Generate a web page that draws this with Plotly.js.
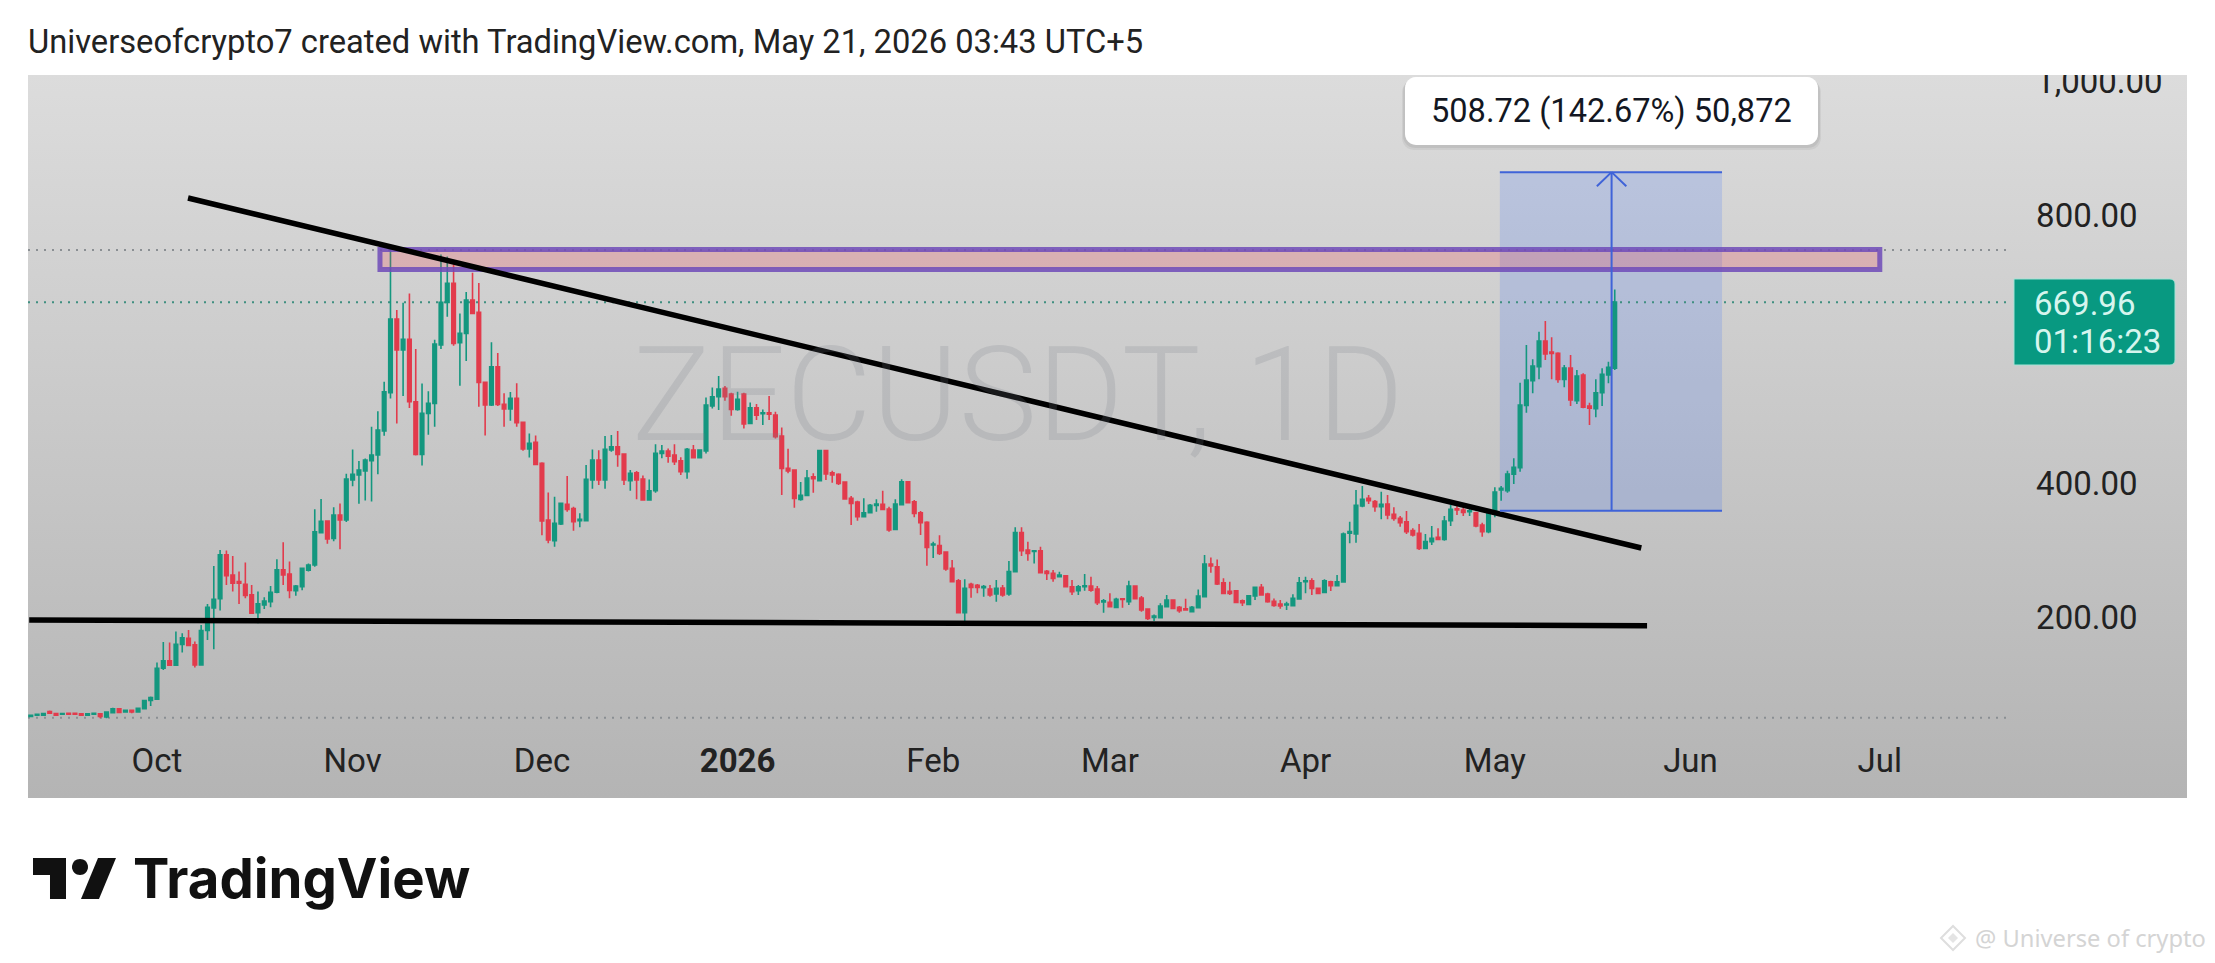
<!DOCTYPE html>
<html>
<head>
<meta charset="utf-8">
<script src="https://cdn.plot.ly/plotly-3.0.1.min.js"></script>
<style>
html,body{margin:0;padding:0;background:#fff;width:2215px;height:963px;overflow:hidden}
#bg{position:absolute;left:28px;top:75px;width:2159px;height:723px;background:linear-gradient(#dcdcdc,#b4b4b4)}
#chart{position:absolute;left:0;top:0;width:2215px;height:963px}
#cover{position:absolute;left:2010px;top:50px;width:177px;height:25px;background:#fff;z-index:5}
</style>
</head>
<body>
<div id="bg"></div>
<div id="chart"></div>
<div id="cover"></div>
<script>
const firstCandle = '2025-09-11';
const opens = [
51.4,53.4,53.4,58.9,55.9,54.9,56.4,56.4,55.4,53.4,54.9,55.4,51,57,63,58.4,60.9,58.4,63.3,75.3,
77.3,123.5,134.5,128,158.9,168.3,158.4,128.5,179.8,213.6,227.5,292.7,262.8,252.9,248.9,233,206.6,218,223,237,
270.3,264.3,239.3,245.3,270,277.6,326,343.3,317.4,352.2,344.8,
404.5,412,418,433.3,441.8,477.6,534.8,644.8,598.5,614.4,521.4,442.8,504,518.9,606,669.6,698,609.4,623.4,673,654.7,550.2,516.4,573.6,517.4,510.4,526.4,490.5,450.7,460.7,
429.3,344.8,313.9,338.8,368.1,362,343.7,343.7,404.4,434.3,404.4,449.2,454.2,443.2,403.4,415.4,405.9,374.6,388.5,444.2,447.7,441.7,433.3,416.9,449.2,437.8,447.7,514.9,528.8,541.2,532.8,
509.9,532.8,489,512.4,503.4,504.9,501.4,470.1,421.8,419.4,375.6,381.5,409.4,403.5,448.3,415.4,413,401.5,377.1,371.6,349.8,355.7,366.7,368.2,361.2,330.8,367.7,402,372.1,355.7,341.3,
307.5,306.5,297,272.6,254.2,206.5,248.8,247.3,243.8,241.8,234.3,243.3,234.3,267.7,325.9,300,298,299,268.2,265.2,260.2,261.7,245.2,239.3,245.2,246.2,241.7,222.3,
221.8,214.4,227.3,222.8,246.2,228.3,211.9,199.5,199,215.4,225.3,214.4,212.4,207.9,213.9,230.3,279,275.1,251.2,238.3,239.3,224.3,218.9,231.3,244.2,234.3,223.3,219.4,217.9,216.9,226.8,
252.7,254.2,242.7,236.8,252.7,246.7,252.2,325,324,365.7,377.1,372.2,364.7,368.7,353.3,347.3,342.3,328.9,324.9,302.5,312.5,318.9,315.9,343.8,361.7,359.7,357.2,355.7,337.3,327.4,
353.3,389.6,388.6,413,422.9,515.9,552.8,573.7,612,595.5,593.5,554.7,571.7,522.9,561.2,515,511,534.8,561.2,571.2
];
const highs = [
54,55.5,56.5,60.5,56.5,56.5,57,57,56,56,57,56.4,58,64.5,63.5,61,61.5,64,76,81.3,
132,162.8,161.9,178.3,175.8,180.8,163.3,188.2,219.6,276.3,300,299.2,291.2,267.8,281.2,247.9,238,229.5,246.4,286.2,
311.6,282.7,247.8,274,280,361,376,343.5,364,369.5,414,
450,433,436.5,484,507,551,750,658.3,669,683,600,548.6,537,614,741,738,726,653,685,714,698.5,550,610,594,534,536,549,491,474,471,
431,386,379.5,370.6,410.4,364.6,354.7,426.8,450,449,470,471.6,477.6,444,419.4,417.9,411.4,405.4,458,456.7,451.7,458,438.3,452.2,456.7,450.2,527.8,542.7,559.6,544.7,534.8,
536.3,534.8,520.3,517.9,509.9,529.8,506.4,483,451.2,420,401.4,419.4,414.4,449.3,449.3,418.4,414.4,401.5,380.6,373.6,377.1,368.7,375.6,388.6,364.7,375.6,405.5,403,374.6,358.2,342.8,
312.4,321.9,298,285,256.7,256.2,251.2,249.3,247.8,247.8,255.2,247.8,283.6,333.8,333.8,312.4,300,305,270.2,270.2,267.7,262.7,255.2,247.7,264.1,260.2,246.2,226.8,
235.3,228.8,227.8,254.2,246.2,231.3,212.9,203.9,220.4,232.8,225.3,216.4,227.3,216.4,241.2,292.5,289,286,257.7,252.7,240.3,226.3,232.8,245.2,249.2,236.3,227.8,225.3,222.8,233.8,259.7,
260.2,257.7,244.2,256.2,254.2,262.6,326,342.3,389.6,395.5,382.1,374.6,387.1,382.1,363.7,350.8,358.2,332.4,338.8,323.9,335.8,332.4,350.8,367.2,365.7,363.7,365.7,357.2,340.8,357.2,
393.6,395.5,418.4,436.8,549.8,606,584.6,625.9,641.8,617.4,595,576.1,591,568.7,563.7,519.9,554.7,571.2,581.1,689
];
const lows = [
51,53,53,55.5,53,54.5,54.5,54.5,53,53,54.5,49,49,56.5,57,58,56.5,58,63,67.3,
77,121,127,127,147,157.4,124.5,128.5,165.8,151.9,209.6,247.9,238,219.6,228,204.6,190.7,212,214.6,235.5,
247.9,228,231.8,240,268,275,325,309.3,313,301,342,
395,369,374,372.6,413,470.7,526,489,530,512,441,426,472,484,600,648,605,545,582,652,514,471,515,515,484,493,484,448,438,427,
322,310,305,337.3,357,328.8,333.8,343.7,391.5,397,391.5,446.7,424.3,397,388.5,375.6,373.6,373.6,385.5,436.8,430.3,426.8,411.9,406.4,436.8,436.8,444.2,511.4,508.9,522.8,500.4,
507.9,481.5,488,494,486.5,494,466.6,382,414.4,363,373.6,380.6,385.5,403.5,404.5,400.5,397,375.6,337.3,343.8,348.8,354.7,357.2,359.7,327.4,330.8,366.7,369.7,348.8,322.4,276.6,
288,292.5,269.2,251.7,205.5,188,228.9,235.3,230.4,230.4,222.9,230.4,231.8,267.7,291,284.1,280,265.2,255.2,252.7,259.2,244.3,232.8,232.8,239.3,237.8,217.9,206.4,
214.4,212.9,213.9,217.9,226.8,207.9,195.5,194,199,215.4,212.4,206.4,209.4,207.4,213.9,230.3,266.1,247.7,234.3,232.8,221.3,216.4,217.9,225.3,231.8,221.3,215.4,212.4,210.4,216.4,226.3,
235.3,232.8,234.3,236.3,238.8,246.2,251,310,311,363.7,368.7,357.2,345.8,345.8,343.8,334.8,323.9,320,300,301,307.5,315,314,335.8,352.3,350.8,350.8,333.9,319.9,324.9,
348.8,373.6,385.6,398.5,417,505,533.9,554.7,583.6,554.7,549.8,542.8,515,517.9,511.5,486.6,498,515,548.8,568.7
];
const closes = [
53.4,54.9,55.9,56.4,53.4,55.9,54.9,54.9,53.4,55.4,56.4,51.4,58,63,57.4,60.9,58.4,63.8,75.3,79.8,
123.5,134.5,128,159.4,168.8,157.4,128.5,179.8,214.6,226.5,292.7,261.8,250.4,250.4,232,205.6,219.6,224,237,270.3,
262.8,239.5,246.3,272.6,277.6,327.3,343,316.4,352.2,344.8,406,
413,419.4,434.3,441.8,479,536.3,644.8,598.5,614.4,521.4,442.8,504,518.9,607.4,669.6,698,608.4,623.4,673,653.2,550.2,516.4,573.6,517.4,510.4,526.4,490,450.7,459.2,427.8,
343.3,315,339.7,369.6,360.6,342.2,345.7,405.4,434.3,404.4,450.2,454.2,442.7,404.4,414.4,404.4,374.6,388.5,444.2,447.7,440.2,431.8,416.9,450.2,437.8,449.2,516.4,528.8,540.2,528.8,509.9,
524.8,488,512.4,501.4,504.9,502.9,469.1,421.8,417.9,377,381.5,407.4,406.4,448.3,413.4,412,399.5,376.1,369.6,349.8,355.7,366.7,368.7,360.7,329.8,368.7,402,370.6,354.7,340.8,304,
309,295,271.6,252.7,206.5,242.8,244.3,244.3,245.3,232.8,242.8,232.8,267.7,325.9,299,295,299,266.2,265.2,257.7,262.7,245.3,237.8,245.2,246.7,240.2,221.3,224.3,
215.4,226.3,226.3,246.2,227.3,210.4,198,201.4,216.4,225.3,212.9,209.4,210.4,214.4,231.3,279,276.1,249.2,235.3,235.3,221.8,221.3,231.8,244.2,232.8,222.8,217.4,216.4,219.4,227.8,251.2,
254.2,242.7,235.3,254.2,246.7,252.7,324,327.4,366.7,375.6,373.6,364.7,368.2,352.3,347.3,340.8,327.4,322.4,302.5,312.5,317.4,315.9,343.3,360.7,359.7,356.2,358.7,335.8,327.4,354.7,
386.6,392.1,413.5,423.4,516.4,553.8,574.6,612,592.6,593.5,554.7,571.7,523.9,559.7,513,511.5,534.8,562.2,572.7,669.96
];
const monthTicks = ['2025-10-01','2025-11-01','2025-12-01','2026-01-01','2026-02-01','2026-03-01','2026-04-01','2026-05-01','2026-06-01','2026-07-01'];
const monthLabels = ['Oct','Nov','Dec','<b>2026</b>','Feb','Mar','Apr','May','Jun','Jul'];
const priceTicks = [200,400,800,1000];
const xRange = ['2025-09-10 13:26','2026-07-21 00:00'];
const yRange = [43.3,1009];

const highLevel = 747.7, lastLevel = 669.96, lowLevel = 49.7;
const zone = {x0:'2025-11-05 08:00', x1:'2026-07-01 00:00', y0:718.6, y1:748.5};
const trendA = {x0:'2025-10-05 22:00', y0:825.4, x1:'2026-05-24 05:00', y1:303};
const trendB = {x0:'2025-09-10 18:00', y0:195.5, x1:'2026-05-25 03:00', y1:187};
const range = {x0:'2026-05-01 19:00', x1:'2026-06-06 00:00', xm:'2026-05-19 12:00', y0:358.5, y1:864};
const arrowHead = {xa:'2026-05-17 04:00', xb:'2026-05-21 20:00', y:843};

const dates = opens.map((_,i)=>new Date(Date.parse(firstCandle+'T00:00:00Z')+i*864e5).toISOString().slice(0,10));

const PL=28, PR=2006, PT=75, PB=722;
const fx = p => (p-PL)/(PR-PL);
const fy = p => (PB-p)/(PB-PT);
function poly(pts){return 'M'+pts.map(p=>fx(p[0]).toFixed(5)+','+fy(p[1]).toFixed(5)).join(' L')+' Z';}
function rrect(x0,y0,x1,y1,rl,rr){
  const pts=[];
  const arc=(cx,cy,r,a0,a1)=>{for(let k=0;k<=6;k++){const a=(a0+(a1-a0)*k/6)*Math.PI/180;pts.push([cx+r*Math.cos(a),cy+r*Math.sin(a)]);}};
  arc(x0+rl,y0+rl,rl,180,270);arc(x1-rr,y0+rr,rr,270,360);arc(x1-rr,y1-rr,rr,0,90);arc(x0+rl,y1-rl,rl,90,180);
  return poly(pts);
}
function circle(cx,cy,r){const pts=[];for(let k=0;k<32;k++){const a=k/32*2*Math.PI;pts.push([cx+r*Math.cos(a),cy+r*Math.sin(a)]);}return poly(pts);}
const paperShape=(path,fill,extra)=>Object.assign({type:'path',xref:'paper',yref:'paper',path:path,fillcolor:fill,line:{width:0},layer:'above'},extra||{});
const dataLine=(x0,y0,x1,y1,color,width,dash,layer)=>({type:'line',xref:'x',yref:'y',x0,y0,x1,y1,line:{color,width,dash:dash||'solid'},layer:layer||'above'});

const shapes=[
  {type:'rect',xref:'x',yref:'y',x0:range.x0,x1:range.x1,y0:range.y0,y1:range.y1,fillcolor:'rgba(41,98,255,0.17)',line:{width:0},layer:'below'},
  {type:'rect',xref:'x',yref:'y',x0:zone.x0,x1:zone.x1,y0:zone.y0,y1:zone.y1,fillcolor:'rgba(242,54,69,0.22)',line:{color:'rgba(110,75,185,0.85)',width:5},layer:'above'},
  dataLine(xRange[0],highLevel,xRange[1],highLevel,'#8a8f93',2,'2px,6px','below'),
  dataLine(xRange[0],lastLevel,xRange[1],lastLevel,'#3f8f80',2,'2px,6px','below'),
  dataLine(xRange[0],lowLevel,xRange[1],lowLevel,'#8a8f93',2,'2px,6px','below'),
  dataLine(trendA.x0,trendA.y0,trendA.x1,trendA.y1,'#000',5.5),
  dataLine(trendB.x0,trendB.y0,trendB.x1,trendB.y1,'#000',5.5),
  dataLine(range.x0,range.y1,range.x1,range.y1,'#3f63d8',2),
  dataLine(range.x0,range.y0,range.x1,range.y0,'#3f63d8',2),
  dataLine(range.xm,range.y0,range.xm,range.y1,'#3f63d8',2),
  dataLine(arrowHead.xa,arrowHead.y,range.xm,range.y1,'#3f63d8',2),
  dataLine(arrowHead.xb,arrowHead.y,range.xm,range.y1,'#3f63d8',2),
  paperShape(rrect(1402,80,1821,150,12,12),'rgba(0,0,0,0.05)'),
  paperShape(rrect(1403,79,1820,148,12,12),'rgba(0,0,0,0.06)'),
  paperShape(rrect(1405,77,1818,145,11,11),'#ffffff'),
  paperShape(rrect(2014,279,2175,365,0,5),'#089981',{line:{color:'#a5e3d6',width:1}}),
  paperShape(poly([[33,858],[66,858],[66,899],[50,899],[50,875],[33,875]]),'#111'),
  paperShape(circle(80,867,8),'#111'),
  paperShape(poly([[98,858],[116,858],[99,899],[81,899]]),'#111'),
  paperShape(poly([[1953,926],[1965,938],[1953,950],[1941,938]]),'rgba(0,0,0,0)',{line:{color:'#dedede',width:2}}),
  paperShape(poly([[1953,933],[1958,938],[1953,943],[1948,938]]),'#e4e4e4'),
];

const trace={type:'candlestick',x:dates,open:opens,high:highs,low:lows,close:closes,
  increasing:{line:{color:'#14977f',width:1.6},fillcolor:'#14977f'},
  decreasing:{line:{color:'#e23b4c',width:1.6},fillcolor:'#e23b4c'},
  hoverinfo:'skip',showlegend:false};

const ann=(text,px,py,size,color,extra)=>Object.assign({text,xref:'paper',yref:'paper',x:fx(px),y:fy(py),showarrow:false,
  font:{family:'Roboto, sans-serif',size,color},xanchor:'left',yanchor:'middle',align:'left'},extra||{});

const annotations=[
  ann('ZECUSDT, 1D',1018,395,132,'rgba(120,123,134,0.2)',{xanchor:'center',font:{family:'Roboto, sans-serif',size:132,color:'rgba(120,123,134,0.2)',weight:300}}),
  ann('508.72 (142.67%) 50,872',1611,111,32.6,'#131722',{xanchor:'center'}),
  ann('669.96',2032,303,33,'#d6f5ee'),
  ann('01:16:23',2032,341,33,'#d6f5ee'),
  ann('TradingView',131,878,54.5,'#111',{font:{family:'Inter, sans-serif',size:54.5,color:'#111',weight:700}}),
  ann('@ Universe of crypto',1973,938,23.7,'#d4d4d4',{font:{family:'"Noto Sans", sans-serif',size:23.7,color:'#d4d4d4'}}),
];

const layout={
  width:2215,height:963,
  margin:{l:PL,r:2215-PR,t:PT,b:963-PB,pad:0},
  paper_bgcolor:'rgba(0,0,0,0)',plot_bgcolor:'rgba(0,0,0,0)',
  title:{text:'Universeofcrypto7 created with TradingView.com, May 21, 2026 03:43 UTC+5',xref:'container',yref:'container',x:28/2215,xanchor:'left',y:1-42/963,yanchor:'middle',font:{family:'Roboto, sans-serif',size:32.7,color:'#222'}},
  showlegend:false,hovermode:false,boxgap:0.2,
  xaxis:{type:'date',range:xRange,rangeslider:{visible:false},showgrid:false,zeroline:false,showline:false,
    tickmode:'array',tickvals:monthTicks,ticktext:monthLabels,ticks:'outside',ticklen:9,tickcolor:'rgba(0,0,0,0)',tickangle:0,
    tickfont:{family:'Roboto, sans-serif',size:33,color:'#222'}},
  yaxis:{side:'right',range:yRange,showgrid:false,zeroline:false,showline:false,
    tickmode:'array',tickvals:priceTicks,tickformat:',.2f',ticks:'outside',ticklen:22.5,tickcolor:'rgba(0,0,0,0)',
    tickfont:{family:'Roboto, sans-serif',size:33,color:'#222'}},
  shapes,annotations
};
Plotly.newPlot('chart',[trace],layout,{displayModeBar:false,staticPlot:true});
</script>
</body>
</html>
